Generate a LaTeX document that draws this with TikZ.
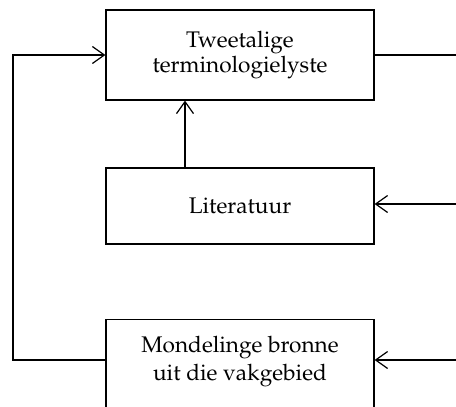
\documentclass[tikz,border=0pt]{standalone}
\usepackage[T1]{fontenc}
\usepackage{mathpazo}
\usetikzlibrary{arrows.meta}
\begin{document}
\begin{tikzpicture}[x=1pt,y=-1pt,line width=1.2pt,
  box/.style={draw,minimum width=268pt,inner sep=0pt,align=center,font=\fontsize{22.6}{25}\selectfont},
  txt/.style={inner sep=0pt,align=center,font=\fontsize{22.6}{28}\selectfont},
  arr/.style={-{Straight Barb[length=12pt,width=17pt,line width=1.2pt]}}]
\useasboundingbox (0,0) rectangle (456,407);
\node[box,minimum height=90pt] (t) at (240,55) {Tweetalige\\terminologielyste};
\node[box,minimum height=76pt] (l) at (240,206) {Literatuur};
\node[box,minimum height=110pt,anchor=north] (m) at (240,319) {};
\node[txt] (mt) at (240,362) {Mondelinge bronne\\uit die vakgebied};
\coordinate (lt) at (13,55);
\coordinate (lb) at (13,360);
\coordinate (r1) at (456,55);
\coordinate (r2) at (456,204);
\coordinate (r3) at (456,360);
\coordinate (vx) at (185,0);
\draw[arr] (m.west |- lb) -- (lb) -- (lt) -- (t.west);
\draw (t.east) -- (r1);
\draw[arr] (r2) -- (l.east |- r2);
\draw[arr] (r3) -- (m.east |- r3);
\draw[arr] (l.north -| vx) -- (t.south -| vx);
\end{tikzpicture}
\end{document}
